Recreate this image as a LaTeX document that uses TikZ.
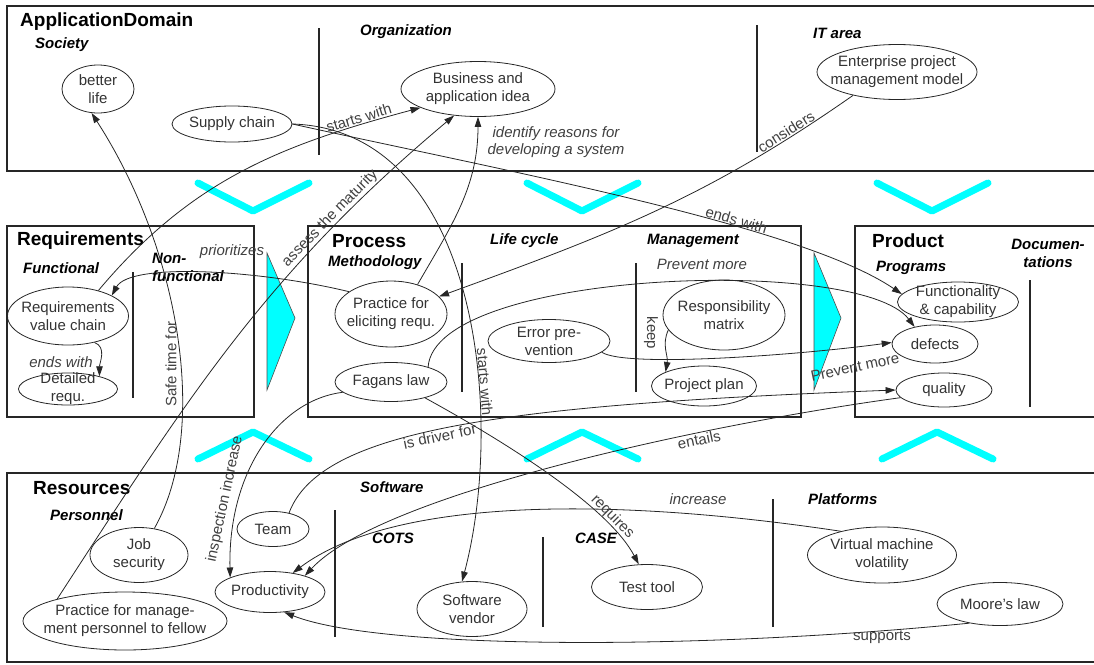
\documentclass[tikz,border=0pt]{standalone}
\usepackage{fontspec}
\setmainfont{Liberation Sans}
\usetikzlibrary{arrows.meta,shapes.geometric}
\definecolor{ciano}{RGB}{0,255,255}

\begin{document}
\begin{tikzpicture}[x=1pt, y=1pt, >={Triangle[length=10pt,width=6.5pt]},
  caixa/.style={line width=2.2pt, draw=black!85},
  divisor/.style={line width=1.8pt, draw=black!85},
  seta/.style={->, line width=0.8pt, draw=black!85},
  bolha/.style={ellipse, draw=black!85, line width=0.8pt, inner sep=0pt},
  titulo/.style={anchor=west, inner sep=0pt, font=\fontsize{19}{22}\selectfont\bfseries},
  sub/.style={anchor=west, inner sep=0pt, align=left, font=\fontsize{15}{18}\selectfont\bfseries\itshape},
  rotulo/.style={inner sep=1pt, text=black!75, font=\fontsize{15}{17.5}\selectfont},
  rotuloit/.style={rotulo, font=\fontsize{15}{17.5}\selectfont\itshape},
  chevron/.style={line width=7pt, ciano, line cap=round, line join=round},
  every label/.style={align=center, inner sep=0pt, text=black!80, font=\fontsize{15}{18}\selectfont}]
    \useasboundingbox (0,0) rectangle (1094,-664);

    % caixas e divisorias
    \draw[caixa] (7,-6) rectangle (1100,-171);
    \draw[caixa] (7,-226) rectangle (254,-417);
    \draw[caixa] (308,-226) rectangle (801,-417);
    \draw[caixa] (855,-226) rectangle (1100,-417);
    \draw[caixa] (7,-473) rectangle (1100,-662);
    \draw[divisor] (319,-28) -- (319,-155);
    \draw[divisor] (757,-25) -- (757,-152);
    \draw[divisor] (133,-272) -- (133,-398);
    \draw[divisor] (462,-263) -- (462,-392);
    \draw[divisor] (636,-263) -- (636,-392);
    \draw[divisor] (1030,-280) -- (1030,-407);
    \draw[divisor] (335,-510) -- (335,-637);
    \draw[divisor] (543,-537) -- (543,-627);
    \draw[divisor] (773,-499) -- (773,-627);

    % chevrons cianos (o \x e o vertice)
    \foreach \x in {253,582,932}
        \draw[chevron] (\x-55,-183) -- (\x,-211) -- (\x+56,-183);
    \foreach \x in {253,582,937}
        \draw[chevron] (\x-55,-459) -- (\x,-432) -- (\x+56,-459);
    \draw[fill=ciano, draw=black!70, line width=0.6pt] (267,-253) -- (295,-318) -- (267,-390) -- cycle;
    \draw[fill=ciano, draw=black!70, line width=0.6pt] (814,-253) -- (841,-318) -- (814,-390) -- cycle;

    % titulos
    \node[titulo] (tdomain) at (20,-22) {ApplicationDomain};
    \node[sub] (tsociety) at (35,-45) {Society};
    \node[sub] (torg) at (360,-32) {Organization};
    \node[sub] (tit) at (813,-33) {IT area};
    \node[titulo] (treq) at (17,-241) {Requirements};
    \node[sub] (tfunc) at (23,-268) {Functional};
    \node[sub] (tnonfunc) at (152,-267) {Non-\\functional};
    \node[titulo] (tproc) at (332,-241) {Process};
    \node[sub] (tmeth) at (328,-263) {Methodology};
    \node[sub] (tlife) at (490,-241) {Life cycle};
    \node[sub] (tmgmt) at (647,-241) {Management};
    \node[titulo] (tprod) at (872,-241) {Product};
    \node[sub] (tprog) at (876,-268) {Programs};
    \node[sub, anchor=center, align=center] (tdoc) at (1048,-253) {Documen-\\tations};
    \node[titulo] (tres) at (33,-488) {Resources};
    \node[sub] (tpers) at (50,-515) {Personnel};
    \node[sub] (tsoft) at (360,-487) {Software};
    \node[sub] (tcots) at (372,-538) {COTS};
    \node[sub] (tcase) at (575,-538) {CASE};
    \node[sub] (tplat) at (808,-499) {Platforms};

    % bolhas
    \node[bolha, minimum width=72pt, minimum height=48pt, label=center:{better\\life}] (life) at (98,-89) {};
    \node[bolha, minimum width=120pt, minimum height=36pt, label=center:{Supply chain}] (supply) at (232,-124) {};
    \node[bolha, minimum width=154pt, minimum height=55pt, label=center:{Business and\\application idea}] (idea) at (478,-89) {};
    \node[bolha, minimum width=160pt, minimum height=55pt, label=center:{Enterprise project\\management model}] (epm) at (897,-72) {};
    \node[bolha, minimum width=121pt, minimum height=58pt, label=center:{Requirements\\value chain}] (rvc) at (68,-316) {};
    \node[bolha, minimum width=99pt, minimum height=32pt, label=center:{Detailed\\requ.}] (detail) at (68,-389) {};
    \node[bolha, minimum width=112pt, minimum height=66pt, label=center:{Practice for\\eliciting requ.}] (elicit) at (391,-314) {};
    \node[bolha, minimum width=112pt, minimum height=39pt, label=center:{Fagans law}] (fagan) at (391,-382) {};
    \node[bolha, minimum width=122pt, minimum height=43pt, label=center:{Error pre-\\vention}] (errprev) at (549,-341) {};
    \node[bolha, minimum width=122pt, minimum height=70pt, label=center:{Responsibility\\matrix}] (resp) at (724,-315) {};
    \node[bolha, minimum width=105pt, minimum height=40pt, label=center:{Project plan}] (plan) at (704,-386) {};
    \node[bolha, minimum width=121pt, minimum height=40pt, label=center:{Functionality\\\& capability}] (func) at (958,-302) {};
    \node[bolha, minimum width=86pt, minimum height=38pt, label=center:{defects}] (defects) at (935,-344) {};
    \node[bolha, minimum width=96pt, minimum height=34pt, label=center:{quality}] (quality) at (944,-390) {};
    \node[bolha, minimum width=72pt, minimum height=35pt, label=center:{Team}] (team) at (273,-529) {};
    \node[bolha, minimum width=98pt, minimum height=55pt, label=center:{Job\\security}] (job) at (139,-555) {};
    \node[bolha, minimum width=110pt, minimum height=41pt, label=center:{Productivity}] (prod) at (270,-592) {};
    \node[bolha, minimum width=204pt, minimum height=58pt, label=center:{Practice for manage-\\ment personnel to fellow}] (mgmt) at (125,-621) {};
    \node[bolha, minimum width=110pt, minimum height=55pt, label=center:{Software\\vendor}] (vendor) at (472,-609) {};
    \node[bolha, minimum width=111pt, minimum height=45pt, label=center:{Test tool}] (test) at (647,-587) {};
    \node[bolha, minimum width=149pt, minimum height=56pt, label=center:{Virtual machine\\volatility}] (vmv) at (882,-555) {};
    \node[bolha, minimum width=126pt, minimum height=43pt, label=center:{Moore’s law}] (moore) at (1000,-604) {};

    % ligacoes
    \draw[seta] (rvc.40) to[out=50, in=195] node[rotulo, sloped, above, pos=0.85] {starts with} (idea.198);
    \draw[seta] (supply.east) .. controls (500,-170) and (800,-225) .. (func.172)
        node[rotulo, sloped, above, pos=0.65] {ends with};
    \draw[seta] (supply.east) .. controls (480,-130) and (505,-420) .. (vendor.110)
        node[rotulo, sloped, above, pos=0.65] {starts with};
    \draw[seta] (mgmt.162) to[out=57, in=220] node[rotulo, sloped, above, pos=0.76] {assess the maturity} (idea.228);
    \draw[seta] (elicit.48) to[out=60, in=-90] (idea.south);
    \node[rotuloit, align=center] (lbreason) at (556,-142) {identify reasons for\\developing a system};
    \draw[seta] (epm.208) to[out=215, in=20] node[rotulo, sloped, above, pos=0.15] {considers} (elicit.20);
    \draw[seta] (elicit.152) .. controls (260,-270) and (130,-262) .. (rvc.25);
    \node[rotuloit] (lbprior) at (232,-252) {prioritizes};
    \draw[seta] (fagan.22) .. controls (435,-270) and (860,-255) .. (defects.140);
    \node[rotuloit] (lbprev) at (702,-264) {Prevent more};
    \draw[seta] (errprev.-12) .. controls (625,-368) and (800,-355) .. (defects.178);
    \node[rotulo, rotate=12] (lbprevb) at (855,-367) {Prevent more};
    \draw[seta] (resp.195) to[out=-115, in=80] (plan.160);
    \node[rotulo, rotate=-90] (lbkeep) at (651,-333) {keep};
    \draw[seta] (team.45) .. controls (320,-430) and (500,-405) .. (quality.west)
        node[rotulo, sloped, below, pos=0.47] {is driver for};
    \draw[seta] (quality.190) .. controls (700,-425) and (380,-495) .. (prod.25)
        node[rotulo, sloped, below, pos=0.3] {entails};
    \draw[seta] (vmv.150) .. controls (600,-495) and (390,-500) .. (prod.40);
    \node[rotuloit] (lbinc) at (698,-499) {increase};
    \draw[seta] (moore.212) .. controls (700,-650) and (380,-650) .. (prod.-55);
    \node[rotulo] (lbsup) at (882,-637) {supports};
    \draw[seta] (fagan.192) .. controls (280,-400) and (228,-470) .. (prod.160);
    \node[rotulo, rotate=78] (lbinsp) at (225,-499) {inspection increase};
    \draw[seta] (fagan.-25) .. controls (520,-450) and (610,-510) .. (test.110)
        node[rotulo, sloped, above, pos=0.75] {requires};
    \draw[seta] (job.60) .. controls (210,-430) and (180,-250) .. (life.-105);
    \node[rotulo, rotate=90] (lbsafe) at (171,-364) {Safe time for};
    \draw[seta] (rvc.-45) to[out=-20, in=90] (detail.22);
    \node[rotuloit] (lbends) at (61,-362) {ends with};

\end{tikzpicture}
\end{document}
